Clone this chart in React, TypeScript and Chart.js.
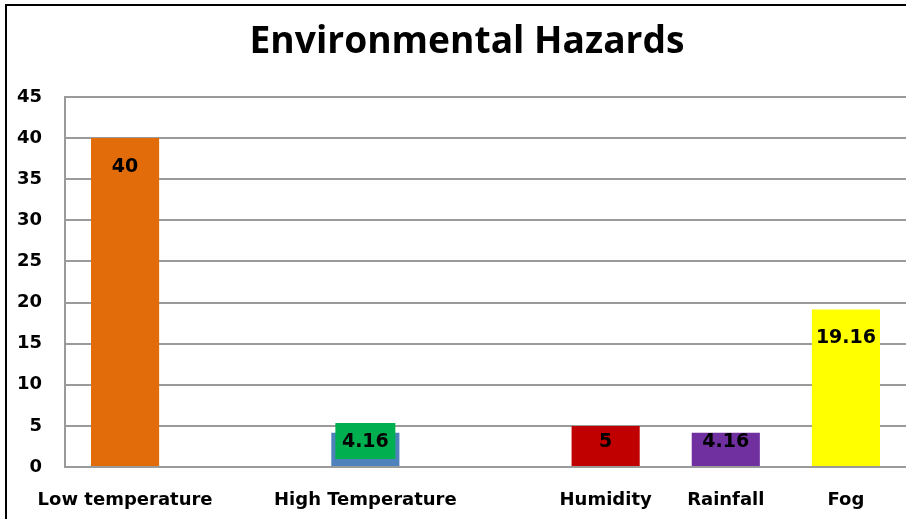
import React, { useEffect, useRef } from "react";
import { Chart, registerables } from "chart.js";

Chart.register(...registerables);

const categories = ["Low temperature", "", "High Temperature", "", "Humidity", "Rainfall", "Fog"];
const values: (number | null)[] = [40, null, 4.16, null, 5, 4.16, 19.16];
const barColors = ["#E36C0A", "#ffffff", "#4F81BD", "#ffffff", "#C00000", "#7030A0", "#FFFF00"];
const labelBoxColors: (string | null)[] = [null, null, "#00B050", null, null, null, null];
const yTicks = { min: 0, max: 45, step: 5 };
const titleText = "Environmental Hazards";

const FONT = "'Open Sans', 'DejaVu Sans', sans-serif";
const TICK_FONT = "'DejaVu Sans', sans-serif";

const decorPlugin = {
  id: "decor",
  beforeDraw(chart: any) {
    const ctx = chart.ctx;
    ctx.save();
    ctx.fillStyle = "#ffffff";
    ctx.fillRect(0, 0, chart.width, chart.height);
    ctx.strokeStyle = "#000000";
    ctx.lineWidth = 2;
    ctx.beginPath();
    ctx.moveTo(6, chart.height);
    ctx.lineTo(6, 5);
    ctx.lineTo(chart.width, 5);
    ctx.stroke();
    ctx.fillStyle = "#000000";
    ctx.font = `bold 38px ${FONT}`;
    ctx.textAlign = "center";
    ctx.textBaseline = "alphabetic";
    ctx.fillText(titleText, 467, 53, 435);
    ctx.restore();
  },
  afterDatasetsDraw(chart: any) {
    const ctx = chart.ctx;
    const meta = chart.getDatasetMeta(0);
    ctx.save();
    meta.data.forEach((el: any, i: number) => {
      const v = values[i];
      if (v === null || v === undefined) return;
      const top = el.y;
      const base = el.base;
      const cy = Math.min(top + 28, base - 25);
      const bg = labelBoxColors[i];
      if (bg) {
        ctx.fillStyle = bg;
        ctx.fillRect(el.x - 30, cy - 18, 60, 36);
      }
      ctx.fillStyle = "#000000";
      ctx.font = `bold 19px ${TICK_FONT}`;
      ctx.textAlign = "center";
      ctx.textBaseline = "middle";
      ctx.fillText(String(v), el.x, cy + 1);
    });
    ctx.restore();
  },
};

export default function App() {
  const ref = useRef<HTMLCanvasElement | null>(null);
  useEffect(() => {
    if (!ref.current) return;
    const chart = new Chart(ref.current, {
      type: "bar",
      data: {
        labels: categories,
        datasets: [
          {
            data: values as any,
            backgroundColor: barColors,
            borderWidth: 0,
            barPercentage: 0.567,
            categoryPercentage: 1,
          },
        ],
      },
      options: {
        animation: false,
        responsive: false,
        devicePixelRatio: 1,
        layout: { padding: { top: 97, right: 0, bottom: 0, left: 0 } },
        plugins: {
          legend: { display: false },
          tooltip: { enabled: false },
          title: { display: false },
        },
        scales: {
          x: {
            grid: { display: false, drawTicks: false },
            border: { display: true, color: "#9a9a9a", width: 2 },
            ticks: {
              color: "#000000",
              font: { family: TICK_FONT, size: 18, weight: "bold" },
              padding: 23,
              maxRotation: 0,
              autoSkip: false,
            },
            afterFit(scale: any) {
              scale.height = 52;
            },
          },
          y: {
            min: yTicks.min,
            max: yTicks.max,
            grid: { color: "#9a9a9a", lineWidth: 2, drawTicks: false },
            border: { display: true, color: "#9a9a9a", width: 2 },
            ticks: {
              stepSize: yTicks.step,
              color: "#000000",
              font: { family: TICK_FONT, size: 18, weight: "bold" },
              padding: 23,
            },
            afterFit(scale: any) {
              scale.width = 65;
            },
          },
        },
      },
      plugins: [decorPlugin],
    });
    return () => chart.destroy();
  }, []);
  return (
    <div style={{ position: "fixed", left: 0, top: 0, width: 906, height: 519 }}>
      <canvas ref={ref} width={906} height={519} style={{ width: 906, height: 519, display: "block" }} />
    </div>
  );
}
